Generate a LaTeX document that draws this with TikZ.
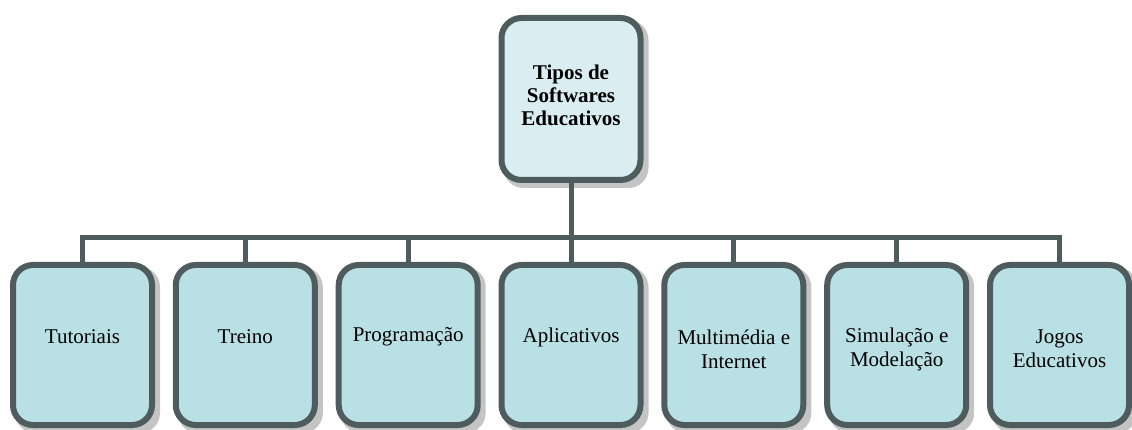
\documentclass[tikz,border=0pt]{standalone}
\usepackage{fontspec}
\setmainfont{Liberation Serif}
\definecolor{edge}{HTML}{4E5C5E}
\definecolor{fillB}{HTML}{B9E0E4}
\definecolor{fillT}{HTML}{DAEEF1}
\definecolor{shad}{HTML}{C4C4C4}
\tikzset{
  box/.style={draw=edge, line width=6pt, rounded corners=20pt, fill=fillB,
    minimum width=139pt, minimum height=160pt, inner sep=0pt},
  topbox/.style={box, fill=fillT, minimum height=162pt},
  shadowbox/.style={fill=shad, rounded corners=20pt, minimum width=145pt,
    minimum height=166pt, inner sep=0pt},
  lbl/.style={align=center, font=\fontsize{21pt}{24pt}\selectfont, text=black},
  conn/.style={draw=edge, line width=5pt}
}
\begin{document}
\begin{tikzpicture}[x=1pt,y=-1pt]
\useasboundingbox (0,0) rectangle (1132,430);
% shadows
\node[shadowbox, minimum height=168pt] at (576,104) {};
\foreach \x in {82.5,245.3,408.2,571,733.8,896.7,1059.5}
  \node[shadowbox] at (\x+5,350) {};
% boxes
\node[topbox] (top) at (571,99) {};
\node[lbl, font=\bfseries\fontsize{21pt}{23pt}\selectfont] at (571,95) {Tipos de\\Softwares\\Educativos};
\node[box] (b1) at (82.5,345) {};
\node[box] (b2) at (245.3,345) {};
\node[box] (b3) at (408.2,345) {};
\node[box] (b4) at (571,345) {};
\node[box] (b5) at (733.8,345) {};
\node[box] (b6) at (896.7,345) {};
\node[box] (b7) at (1059.5,345) {};
\node[lbl] at (82.5,337) {Tutoriais};
\node[lbl] at (245.3,337) {Treino};
\node[lbl] at (408.2,337) {Programação};
\node[lbl] at (571,337) {Aplicativos};
\node[lbl] at (733.8,349) {Multimédia e\\Internet};
\node[lbl] at (896.7,349) {Simulação e\\Modelação};
\node[lbl] at (1059.5,349) {Jogos\\Educativos};
% connectors
\coordinate (bus) at (571,238);
\draw[conn] (top.south) -- (bus);
\draw[conn, line cap=rect] (b1.north |- bus) -- (b7.north |- bus);
\foreach \b in {b1,b2,b3,b4,b5,b6,b7}
  \draw[conn] (\b.north |- bus) -- (\b.north);
\end{tikzpicture}
\end{document}
